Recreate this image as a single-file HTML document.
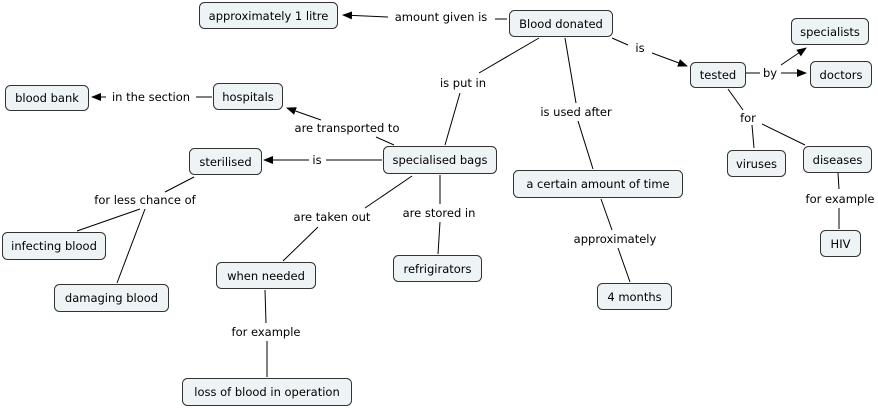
<!DOCTYPE html>
<html><head><meta charset="utf-8"><style>
html,body{margin:0;padding:0;background:#fff;}
svg{display:block;font-family:"DejaVu Sans","Liberation Sans",sans-serif;font-size:11.5px;}
rect{fill:#eef3f5;stroke:#333;stroke-width:1;}
line{stroke:#000;stroke-width:1;}
text{fill:#000;}
</style></head><body>
<svg width="878" height="409" viewBox="0 0 878 409" xmlns="http://www.w3.org/2000/svg">
<defs><marker id="a" markerWidth="10" markerHeight="8" refX="9" refY="4" orient="auto" markerUnits="userSpaceOnUse"><path d="M0,0 L10,4 L0,8 z" fill="#000"/></marker></defs>
<!-- lines -->
<line x1="388" y1="17" x2="343" y2="15" marker-end="url(#a)"/>
<line x1="495" y1="19" x2="507" y2="19"/>
<line x1="612" y1="38" x2="628" y2="45"/>
<line x1="652" y1="53" x2="687" y2="66" marker-end="url(#a)"/>
<line x1="746" y1="73" x2="760" y2="73"/>
<line x1="781" y1="73" x2="806" y2="73" marker-end="url(#a)"/>
<line x1="781" y1="65" x2="806" y2="48" marker-end="url(#a)"/>
<line x1="728" y1="89" x2="743" y2="110"/>
<line x1="752" y1="125" x2="754" y2="148"/>
<line x1="762" y1="124" x2="805" y2="145"/>
<line x1="838" y1="173" x2="839" y2="189"/>
<line x1="839" y1="208" x2="839" y2="229"/>
<line x1="539" y1="38" x2="479" y2="73"/>
<line x1="460" y1="93" x2="445" y2="145"/>
<line x1="565" y1="38" x2="576" y2="103"/>
<line x1="578" y1="121" x2="593" y2="169"/>
<line x1="601" y1="199" x2="612" y2="230"/>
<line x1="618" y1="248" x2="630" y2="282"/>
<line x1="212" y1="97" x2="196" y2="97"/>
<line x1="106" y1="97" x2="92" y2="97" marker-end="url(#a)"/>
<line x1="394" y1="145" x2="376" y2="137"/>
<line x1="321" y1="120" x2="287" y2="108" marker-end="url(#a)"/>
<line x1="382" y1="160" x2="326" y2="160"/>
<line x1="309" y1="160" x2="264" y2="160" marker-end="url(#a)"/>
<line x1="194" y1="177" x2="165" y2="192"/>
<line x1="140" y1="209" x2="77" y2="231"/>
<line x1="145" y1="209" x2="117" y2="283"/>
<line x1="412" y1="176" x2="365" y2="208"/>
<line x1="318" y1="227" x2="283" y2="261"/>
<line x1="440" y1="175" x2="440" y2="204"/>
<line x1="440" y1="222" x2="438" y2="254"/>
<line x1="265" y1="290" x2="266" y2="323"/>
<line x1="267" y1="341" x2="267" y2="377"/>
<!-- nodes -->
<rect x="199.5" y="2.5" width="138" height="26" rx="5"/><text x="268.5" y="20" text-anchor="middle">approximately 1 litre</text>
<rect x="509.5" y="10.5" width="103" height="26" rx="5"/><text x="561" y="28" text-anchor="middle">Blood donated</text>
<rect x="791.5" y="18.5" width="77" height="26" rx="5"/><text x="830" y="36" text-anchor="middle">specialists</text>
<rect x="690.5" y="62.5" width="55" height="25" rx="5"/><text x="718" y="79" text-anchor="middle">tested</text>
<rect x="810.5" y="61.5" width="61" height="26" rx="5"/><text x="841" y="79" text-anchor="middle">doctors</text>
<rect x="5.5" y="85.5" width="83" height="25" rx="5"/><text x="47" y="102" text-anchor="middle">blood bank</text>
<rect x="213.5" y="83.5" width="69" height="26" rx="5"/><text x="248" y="101" text-anchor="middle">hospitals</text>
<rect x="189.5" y="148.5" width="72" height="26" rx="5"/><text x="225.5" y="166" text-anchor="middle">sterilised</text>
<rect x="383.5" y="146.5" width="113" height="27" rx="5"/><text x="440" y="164" text-anchor="middle">specialised bags</text>
<rect x="513.5" y="170.5" width="169" height="27" rx="5"/><text x="598" y="188" text-anchor="middle">a certain amount of time</text>
<rect x="727.5" y="150.5" width="58" height="26" rx="5"/><text x="756.5" y="168" text-anchor="middle">viruses</text>
<rect x="803.5" y="146.5" width="68" height="26" rx="5"/><text x="837.5" y="164" text-anchor="middle">diseases</text>
<rect x="2.5" y="232.5" width="103" height="27" rx="5"/><text x="54" y="250" text-anchor="middle">infecting blood</text>
<rect x="820.5" y="230.5" width="40" height="26" rx="5"/><text x="840.5" y="248" text-anchor="middle">HIV</text>
<rect x="216.5" y="262.5" width="99" height="26" rx="5"/><text x="266" y="280" text-anchor="middle">when needed</text>
<rect x="393.5" y="255.5" width="88" height="26" rx="5"/><text x="437.5" y="273" text-anchor="middle">refrigirators</text>
<rect x="597.5" y="283.5" width="74" height="26" rx="5"/><text x="634.5" y="301" text-anchor="middle">4 months</text>
<rect x="54.5" y="284.5" width="114" height="27" rx="5"/><text x="111.5" y="302" text-anchor="middle">damaging blood</text>
<rect x="182.5" y="378.5" width="169" height="27" rx="5"/><text x="267" y="396" text-anchor="middle">loss of blood in operation</text>
<!-- labels -->
<text x="441" y="21" text-anchor="middle">amount given is</text>
<text x="640" y="52" text-anchor="middle">is</text>
<text x="770" y="77" text-anchor="middle">by</text>
<text x="151" y="101" text-anchor="middle">in the section</text>
<text x="463" y="87" text-anchor="middle">is put in</text>
<text x="576" y="116" text-anchor="middle">is used after</text>
<text x="347" y="132" text-anchor="middle">are transported to</text>
<text x="317" y="164" text-anchor="middle">is</text>
<text x="748" y="122" text-anchor="middle">for</text>
<text x="145" y="204" text-anchor="middle">for less chance of</text>
<text x="332" y="221" text-anchor="middle">are taken out</text>
<text x="439" y="217" text-anchor="middle">are stored in</text>
<text x="615" y="243" text-anchor="middle">approximately</text>
<text x="840" y="203" text-anchor="middle">for example</text>
<text x="266" y="336" text-anchor="middle">for example</text>
</svg>
</body></html>
